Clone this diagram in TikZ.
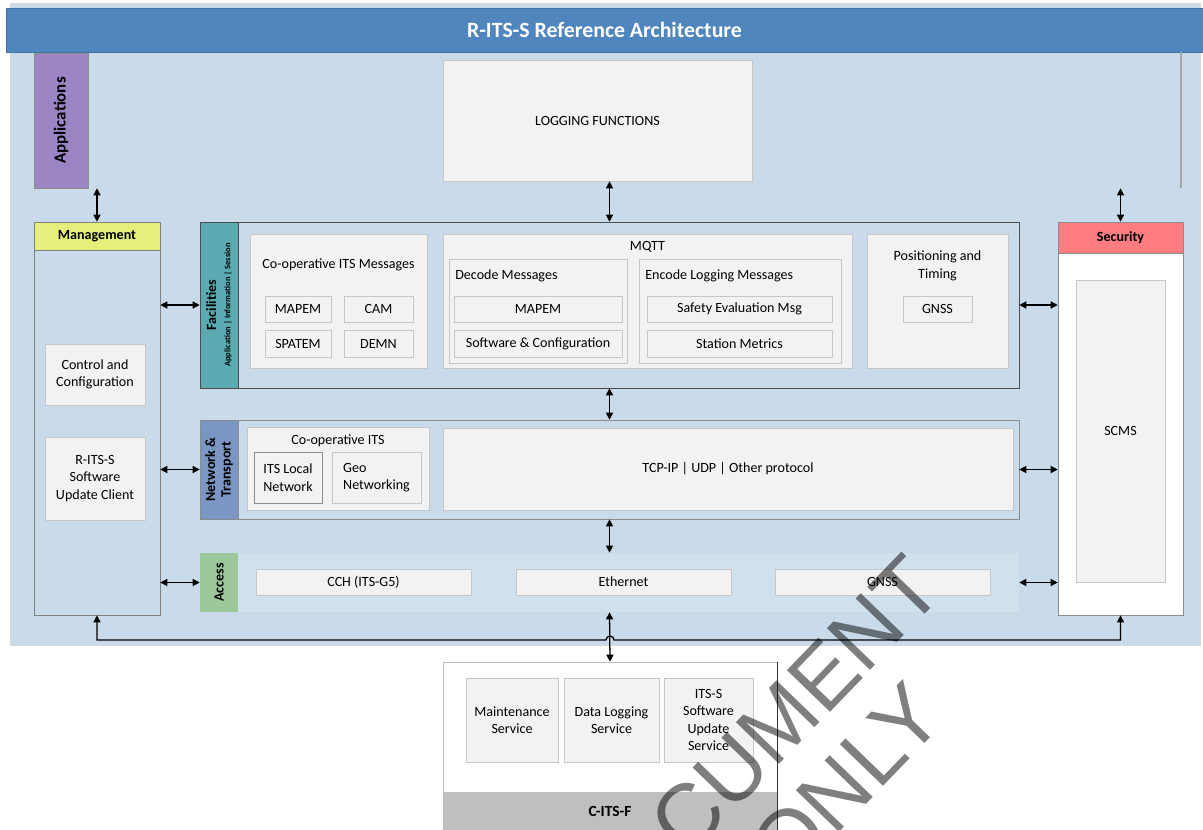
\documentclass[tikz,border=0pt]{standalone}
\usepackage{fontspec}
\setmainfont{Carlito}
\newfontfamily\wmfont{Liberation Sans}
\usetikzlibrary{arrows.meta, positioning, shadows}

\definecolor{panelblue}{RGB}{201,218,234}
\definecolor{titleblue}{RGB}{79,134,190}
\definecolor{appspurple}{RGB}{155,133,197}
\definecolor{mgmtyellow}{RGB}{230,239,122}
\definecolor{facteal}{RGB}{91,170,178}
\definecolor{netblue}{RGB}{124,150,196}
\definecolor{accgreen}{RGB}{156,200,156}
\definecolor{secred}{RGB}{255,124,128}
\definecolor{boxgray}{RGB}{242,242,242}
\definecolor{bandgray}{RGB}{191,191,191}

\tikzset{
  dims/.style 2 args={minimum width=#1*0.025cm, minimum height=#2*0.025cm},
  box/.style={draw=black!22, fill=boxgray, inner sep=0pt, align=center,
    font=\fontsize{10}{12.5}\selectfont,
    drop shadow={shadow xshift=0.7pt, shadow yshift=-0.7pt, opacity=0.25}},
  frame/.style={draw=black!70, fill=panelblue, inner sep=0pt},
  layerlbl/.style={rotate=90, inner sep=0pt, align=center,
    font=\fontsize{10}{11}\selectfont\bfseries},
  txt/.style={inner sep=0pt, align=center, font=\fontsize{10}{12.5}\selectfont},
  link/.style={{Triangle[length=5pt,width=5pt]}-{Triangle[length=5pt,width=5pt]},
    line width=0.9pt},
  watermark/.style={rotate=46, inner sep=0pt, text=black, text opacity=0.5,
    font=\wmfont\fontsize{62}{62}\selectfont},
}

\begin{document}
\begin{tikzpicture}[x=0.025cm, y=-0.025cm]
  \useasboundingbox (0,0) rectangle (1203,829);
  \clip (0,0) rectangle (1203,829);

  % Background panel and title bar
  \node[draw=black!15, fill=panelblue, dims={1190}{642}, inner sep=0pt] (panel) at (605,324) {};
  \node[fill=titleblue, draw=titleblue!85!black, dims={1197}{44}, inner sep=0pt, text=white,
        font=\fontsize{15.5}{18}\selectfont\bfseries] (title) at (604.5,30) {R-ITS-S Reference Architecture};
  \draw[black!35, line width=0.8pt] (1181,52) -- (1181,188);

  % Applications, Management
  \node[layerlbl, fill=appspurple, draw=black!45, dims={135}{54},
        font=\fontsize{12}{14}\selectfont\bfseries] (apps) at (61,120.5) {Applications};
  \node[draw=black!50, dims={126}{393}, inner sep=0pt] (mgmt) at (97,418.5) {};
  \node[fill=mgmtyellow, draw=black!50, dims={126}{28}, inner sep=0pt,
        font=\fontsize{10}{12}\selectfont\bfseries] (mgmthead) at (97,236) {Management};
  \node[box, dims={100}{61}] (ctrl) at (95,374.5) {Control and\\Configuration};
  \node[box, dims={100}{83}] (upd) at (95,478.5) {R-ITS-S\\Software\\Update Client};

  % Logging functions
  \node[box, dims={309}{121}] (logf) at (597.5,120.5) {LOGGING FUNCTIONS};

  % Facilities layer
  \node[frame, dims={819}{166}] (fac) at (609.5,305) {};
  \node[layerlbl, fill=facteal, draw=black!70, dims={166}{38}] (faclbl) at (219,305)
        {Facilities\\[-1pt]{\fontsize{6}{7}\selectfont Application | Information | Session}};
  \node[box, dims={177}{134}] (coopmsg) at (338.5,301) {};
  \node[txt] (coopmsgt) at (338.5,265) {Co-operative ITS Messages};
  \node[box, dims={66}{26}] (mapema) at (298,309) {MAPEM};
  \node[box, dims={69}{26}] (cam) at (378.5,309) {CAM};
  \node[box, dims={66}{27}] (spatem) at (298,343.5) {SPATEM};
  \node[box, dims={69}{27}] (demn) at (378.5,343.5) {DEMN};

  \node[box, dims={409}{134}] (mqtt) at (647.5,301) {};
  \node[txt] (mqttt) at (647.5,247) {MQTT};
  \node[box, dims={178}{104}] (decode) at (538,311) {};
  \node[txt, anchor=west] (decodet) at (455,276) {Decode Messages};
  \node[box, dims={168}{26}] (dmapem) at (538,309) {MAPEM};
  \node[box, dims={168}{27}] (dsw) at (538,343.5) {Software \& Configuration};
  \node[box, dims={202}{104}] (encode) at (740,311) {};
  \node[txt, anchor=west] (encodet) at (645,276) {Encode Logging Messages};
  \node[box, dims={185}{26}] (safety) at (739.5,309) {Safety Evaluation Msg};
  \node[box, dims={185}{27}] (metrics) at (739.5,343.5) {Station Metrics};

  \node[box, dims={141}{134}] (pos) at (937.5,301) {};
  \node[txt] (post) at (937.5,266) {Positioning and\\Timing};
  \node[box, dims={69}{26}] (gnssa) at (937.5,309) {GNSS};

  % Network & Transport layer
  \node[frame, draw=black!45, dims={819}{99}] (net) at (609.5,469.5) {};
  \node[layerlbl, fill=netblue, draw=black!45, dims={99}{38}] (netlbl) at (219,469.5) {Network \&\\Transport};
  \node[box, dims={182}{83}] (coopits) at (338,468.5) {};
  \node[txt] (coopitst) at (338,441) {Co-operative ITS};
  \node[box, draw=black!45, dims={68}{51}] (itsln) at (288,477.5) {ITS Local\\Network};
  \node[box, align=left, dims={89}{51}] (geo) at (376.5,477.5) {Geo\\Networking};
  \node[box, dims={570}{82}] (tcp) at (728,469) {TCP-IP | UDP | Other protocol};

  % Access layer
  \node[fill=panelblue!85!white, dims={819}{59}, inner sep=0pt] (accrow) at (609.5,582.5) {};
  \node[layerlbl, fill=accgreen, dims={59}{38}] (acclbl) at (219,582.5) {Access};
  \node[box, dims={215}{26}] (cch) at (363.5,582) {CCH (ITS-G5)};
  \node[box, dims={215}{26}] (eth) at (623.5,582) {Ethernet};
  \node[box, dims={215}{26}] (gnssb) at (882.5,582) {GNSS};

  % Security
  \node[fill=white, draw=black!45, dims={125}{393}, inner sep=0pt] (sec) at (1120.5,418.5) {};
  \node[fill=secred, draw=black!45, dims={125}{31}, inner sep=0pt,
        font=\fontsize{10}{12}\selectfont\bfseries] (sechead) at (1120.5,237.5) {Security};
  \node[box, dims={89}{302}] (scms) at (1120.5,431) {SCMS};

  % C-ITS-F
  \node[fill=white, draw=black!25, dims={334}{170}, inner sep=0pt] (citsf) at (610,747) {};
  \node[fill=bandgray, dims={334}{38}, inner sep=0pt,
        font=\fontsize{11}{13}\selectfont\bfseries] (band) at (610,811) {C-ITS-F};
  \draw[black!80, line width=0.6pt] (citsf.north east) -- (citsf.south east);
  \node[box, dims={92}{84}] (maint) at (512,720) {Maintenance\\Service};
  \node[box, dims={95}{84}] (dlog) at (611.5,720) {Data Logging\\Service};
  \node[box, dims={89}{84}] (swupd) at (708.5,720) {ITS-S\\Software\\Update\\Service};

  % Connectors
  \draw[link] (mgmthead.north) -- (mgmthead.north |- apps.west);
  \draw[link] (fac.north) -- (fac.north |- logf.south);
  \draw[link] (sechead.north) -- (sechead.north |- apps.west);
  \draw[link] (mgmt.east |- fac.west) -- (fac.west);
  \draw[link] (mgmt.east |- net.west) -- (net.west);
  \draw[link] (mgmt.east |- accrow.west) -- (accrow.west);
  \draw[link] (fac.east) -- (sec.west |- fac.east);
  \draw[link] (net.east) -- (sec.west |- net.east);
  \draw[link] (accrow.east) -- (sec.west |- accrow.east);
  \draw[link] (fac.south) -- (net.north);
  \draw[link] (net.south) -- (accrow.north);
  \draw[link] (accrow.south) -- (citsf.north);
  \coordinate (bus) at (0,640);
  \coordinate (hop) at (606,640);
  \draw[link] (mgmt.south) -- (mgmt.south |- bus) -- (hop)
    arc[start angle=180, end angle=360, radius=4] -- (sec.south |- bus) -- (sec.south);

  % Watermark
  \node[watermark] (wmdoc) at (750,752) {DOCUMENT};
  \node[watermark] (wmonly) at (846,782) {ONLY};
\end{tikzpicture}
\end{document}
